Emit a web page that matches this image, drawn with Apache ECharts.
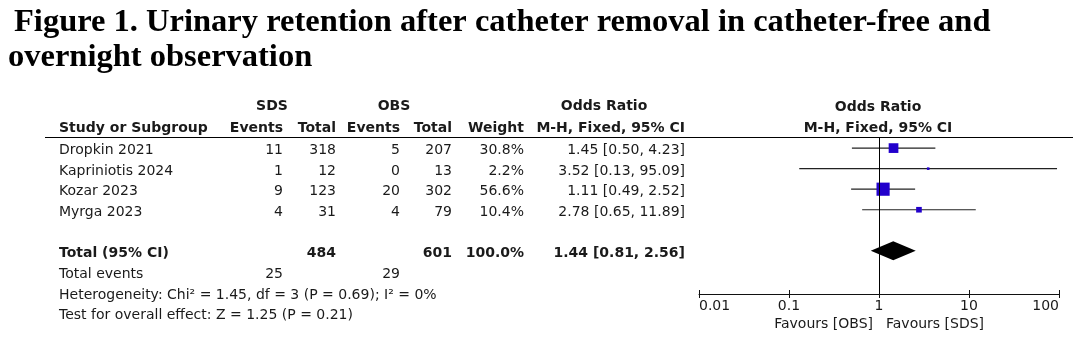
<!DOCTYPE html>
<html>
<head>
<meta charset="utf-8">
<script src="https://cdn.jsdelivr.net/npm/echarts@6/dist/echarts.min.js"></script>
<style>
  html, body { margin: 0; padding: 0; background: #fff; }
  #forest { width: 1080px; height: 352px; }
</style>
</head>
<body>
<div id="forest"></div>
<script>
// data
var studies = ['Dropkin 2021', 'Kapriniotis 2024', 'Kozar 2023', 'Myrga 2023'];
var sdsEvents = [11, 1, 9, 4];
var sdsTotal = [318, 12, 123, 31];
var obsEvents = [5, 0, 20, 4];
var obsTotal = [207, 13, 302, 79];
var weights = [30.8, 2.2, 56.6, 10.4];
var orEst = [1.45, 3.52, 1.11, 2.78];
var orLow = [0.50, 0.13, 0.49, 0.65];
var orHigh = [4.23, 95.09, 2.52, 11.89];
var studyRows = [0, 1, 2, 3];

var totalRow = 5;
var totalSds = 484;
var totalObs = 601;
var totalWeight = 100.0;
var totalEst = 1.44;
var totalLow = 0.81;
var totalHigh = 2.56;
var totalSdsEvents = 25;
var totalObsEvents = 29;
var heterogeneity = 'Heterogeneity: Chi\u00b2 = 1.45, df = 3 (P = 0.69); I\u00b2 = 0%';
var overallTest = 'Test for overall effect: Z = 1.25 (P = 0.21)';

var tickValues = [0.01, 0.1, 1, 10, 100];
var tickLabels = ['0.01', '0.1', '1', '10', '100'];

var FONT = 'DejaVu Sans';
var FS = 14;
var TXT = '#1a1a1a';

function fmt2(v) { return v.toFixed(2); }
function ciText(e, l, h) { return fmt2(e) + ' [' + fmt2(l) + ', ' + fmt2(h) + ']'; }

// table columns (pixel x, alignment)
var cols = [
    { x: 59, align: 'left' },
    { x: 283, align: 'right' },
    { x: 336, align: 'right' },
    { x: 400, align: 'right' },
    { x: 452, align: 'right' },
    { x: 524, align: 'right' },
    { x: 685, align: 'right' }
];

function txt(x, y, s, align, bold, size) {
    return {
        type: 'text', x: x, y: y, silent: true,
        style: {
            text: s, fill: TXT, align: align || 'left', verticalAlign: 'middle',
            font: (bold ? 'bold ' : '') + (size || FS) + 'px "' + FONT + '"'
        }
    };
}

var myChart = echarts.init(document.getElementById('forest'));

var tableData = studies.map(function (s, i) { return [1, studyRows[i], i]; });
tableData.push([1, totalRow, -1]);

var option = {
    animation: false,
    grid: { left: 699, top: 137, width: 360, height: 157 },
    xAxis: [{
        type: 'log', logBase: 10, min: 0.01, max: 100,
        position: 'bottom',
        axisLine: { onZero: false, lineStyle: { color: '#111', width: 1 } },
        axisTick: { length: 4, lineStyle: { color: '#111' } },
        minorTick: { show: false },
        splitLine: { show: false },
        axisLabel: {
            fontFamily: FONT, fontSize: FS, color: TXT, margin: 5,
            alignMinLabel: 'left', alignMaxLabel: 'right',
            formatter: function (v) {
                var k = Math.round(Math.log10(v)) + 2;
                return tickLabels[k] || '';
            }
        }
    }, {
        type: 'log', logBase: 10, min: 0.01, max: 100,
        position: 'bottom',
        axisLine: { show: false, onZero: false },
        axisTick: { inside: true, length: 4, lineStyle: { color: '#111' } },
        axisLabel: { show: false },
        splitLine: { show: false }
    }],
    yAxis: { type: 'value', inverse: true, min: -0.54, max: 7.1, show: false },
    series: [{
        // CI whiskers and weight squares
        type: 'custom',
        xAxisIndex: 0,
        encode: { x: [1, 2, 3], y: 0 },
        data: studies.map(function (s, i) {
            return [studyRows[i], orLow[i], orEst[i], orHigh[i], weights[i]];
        }),
        renderItem: function (params, api) {
            var a = api.coord([api.value(1), api.value(0)]);
            var c = api.coord([api.value(2), api.value(0)]);
            var b = api.coord([api.value(3), api.value(0)]);
            var sz = 1.75 * Math.sqrt(api.value(4));
            return {
                type: 'group',
                children: [{
                    type: 'line',
                    shape: { x1: a[0], y1: a[1], x2: b[0], y2: b[1] },
                    style: { stroke: '#222', lineWidth: 1.2 }
                }, {
                    type: 'rect',
                    shape: { x: c[0] - sz / 2, y: c[1] - sz / 2, width: sz, height: sz },
                    style: { fill: '#2200cc' }
                }]
            };
        },
        markLine: {
            silent: true, symbol: 'none', animation: false,
            label: { show: false },
            lineStyle: { color: '#000', width: 1, type: 'solid' },
            data: [{ xAxis: 1 }]
        }
    }, {
        // pooled diamond
        type: 'custom',
        encode: { x: [1, 2, 3], y: 0 },
        data: [[totalRow, totalLow, totalEst, totalHigh]],
        renderItem: function (params, api) {
            var a = api.coord([api.value(1), api.value(0)]);
            var c = api.coord([api.value(2), api.value(0)]);
            var b = api.coord([api.value(3), api.value(0)]);
            var h = 9.5;
            return {
                type: 'polygon',
                shape: { points: [[a[0], a[1]], [c[0], c[1] - h], [b[0], b[1]], [c[0], c[1] + h]] },
                style: { fill: '#000' }
            };
        }
    }, {
        // table rows
        type: 'custom',
        encode: { x: 0, y: 1 },
        data: tableData,
        renderItem: function (params, api) {
            var y = api.coord([1, api.value(1)])[1] + 2.5;
            var i = api.value(2);
            var cells, bold = false;
            if (i >= 0) {
                cells = [studies[i], String(sdsEvents[i]), String(sdsTotal[i]), String(obsEvents[i]),
                    String(obsTotal[i]), weights[i].toFixed(1) + '%', ciText(orEst[i], orLow[i], orHigh[i])];
            } else {
                bold = true;
                cells = ['Total (95% CI)', '', String(totalSds), '', String(totalObs),
                    totalWeight.toFixed(1) + '%', ciText(totalEst, totalLow, totalHigh)];
            }
            return {
                type: 'group',
                children: cells.map(function (s, k) { return txt(cols[k].x, y, s, cols[k].align, bold); })
            };
        }
    }],
    graphic: [
        {
            type: 'text', x: 14, y: 23,
            style: { text: 'Figure 1. Urinary retention after catheter removal in catheter-free and',
                font: 'bold 32.5px "Liberation Serif"', fill: '#000', verticalAlign: 'middle' }
        },
        {
            type: 'text', x: 8, y: 58,
            style: { text: 'overnight observation',
                font: 'bold 32.5px "Liberation Serif"', fill: '#000', verticalAlign: 'middle' }
        },
        txt(272, 106, 'SDS', 'center', true),
        txt(394, 106, 'OBS', 'center', true),
        txt(604, 106, 'Odds Ratio', 'center', true),
        txt(878, 107, 'Odds Ratio', 'center', true),
        txt(cols[0].x, 128, 'Study or Subgroup', 'left', true),
        txt(cols[1].x, 128, 'Events', 'right', true),
        txt(cols[2].x, 128, 'Total', 'right', true),
        txt(cols[3].x, 128, 'Events', 'right', true),
        txt(cols[4].x, 128, 'Total', 'right', true),
        txt(cols[5].x, 128, 'Weight', 'right', true),
        txt(cols[6].x, 128, 'M-H, Fixed, 95% CI', 'right', true),
        txt(878, 128, 'M-H, Fixed, 95% CI', 'center', true),
        {
            type: 'line', silent: true,
            shape: { x1: 45, y1: 137.5, x2: 1073, y2: 137.5 },
            style: { stroke: '#000', lineWidth: 1 }
        },
        txt(cols[0].x, 274, 'Total events', 'left'),
        txt(cols[1].x, 274, String(totalSdsEvents), 'right'),
        txt(cols[3].x, 274, String(totalObsEvents), 'right'),
        txt(cols[0].x, 295, heterogeneity, 'left'),
        txt(cols[0].x, 315, overallTest, 'left'),
        txt(873, 324, 'Favours [OBS]', 'right'),
        txt(886, 324, 'Favours [SDS]', 'left')
    ]
};
myChart.setOption(option);
</script>
</body>
</html>
